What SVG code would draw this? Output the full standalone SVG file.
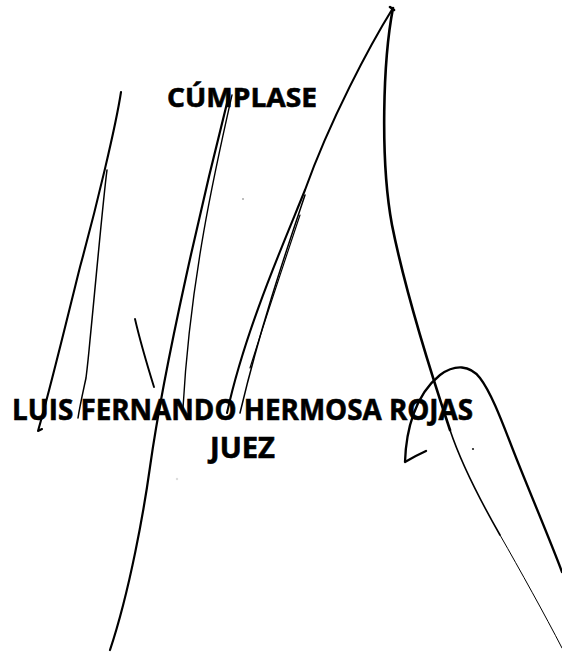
<svg xmlns="http://www.w3.org/2000/svg" width="562" height="652" viewBox="0 0 562 652">
  <style>
    .ink { fill: none; stroke: #000; stroke-linecap: round; stroke-linejoin: round; }
    .t { font-family: "Open Sans", "Liberation Sans", sans-serif; font-weight: 700; fill: #000; stroke: #000; stroke-width: 0.6; }
  </style>
  <rect width="562" height="652" fill="#fff"/>
  <g id="signature">
    <path class="ink" stroke-width="2.1" d="M121,92 C116,125 97,205 80,267 C68,315 50,390 38,431 L42,429"/>
    <path class="ink" stroke-width="1.5" d="M107,170 C103,200 96,280 90,340 C88,362 87,370 86,378 C83,392 80,405 78,418"/>
    <path class="ink" stroke-width="1.9" d="M135,319 Q141,345 154,387"/>
    <path class="ink" stroke-width="2.2" d="M229,95 C205,190 165,360 150,467 C144,510 130,590 110,650"/>
    <path class="ink" stroke-width="1.4" d="M232,95 C215,170 190,280 183,408"/>
    <path class="ink" stroke-width="2.1" d="M393,8 C370,45 330,120 305,190 C285,240 245,330 227,413"/>
    <path class="ink" stroke-width="1.5" d="M305,195 C290,240 262,320 240,413"/>
    <path class="ink" stroke-width="1.2" d="M300,215 C285,260 265,320 250,368"/>
    <path class="ink" stroke-width="2.6" d="M390,7 L394,10 M393,8 C383,60 380,160 392,225 C405,290 430,370 450,430"/>
    <path class="ink" stroke-width="1.6" d="M450,430 C460,460 480,500 500,535"/>
    <path class="ink" stroke-width="1" stroke="#333" d="M500,535 C520,570 545,615 562,648"/>
    <path class="ink" stroke-width="2.3" d="M426,451 Q415,456 405,462 C406,430 415,395 440,375 C455,364 470,365 480,378 C493,395 505,430 517,460 C535,505 552,545 562,572"/>
    <circle cx="473" cy="449" r="1.1" fill="#222"/>
    <circle cx="243" cy="199" r="1" fill="#aaa"/>
    <circle cx="177" cy="479" r="1.2" fill="#ddd"/>
  </g>
  <g id="texts">
    <text id="cumplase" class="t" x="167" y="107" font-size="27" textLength="150" lengthAdjust="spacingAndGlyphs">CÚMPLASE</text>
    <text id="name" class="t" x="12" y="420" font-size="29" textLength="461" lengthAdjust="spacingAndGlyphs">LUIS FERNANDO HERMOSA ROJAS</text>
    <text id="title" class="t" x="210" y="458" font-size="29" textLength="65" lengthAdjust="spacingAndGlyphs">JUEZ</text>
  </g>
</svg>
